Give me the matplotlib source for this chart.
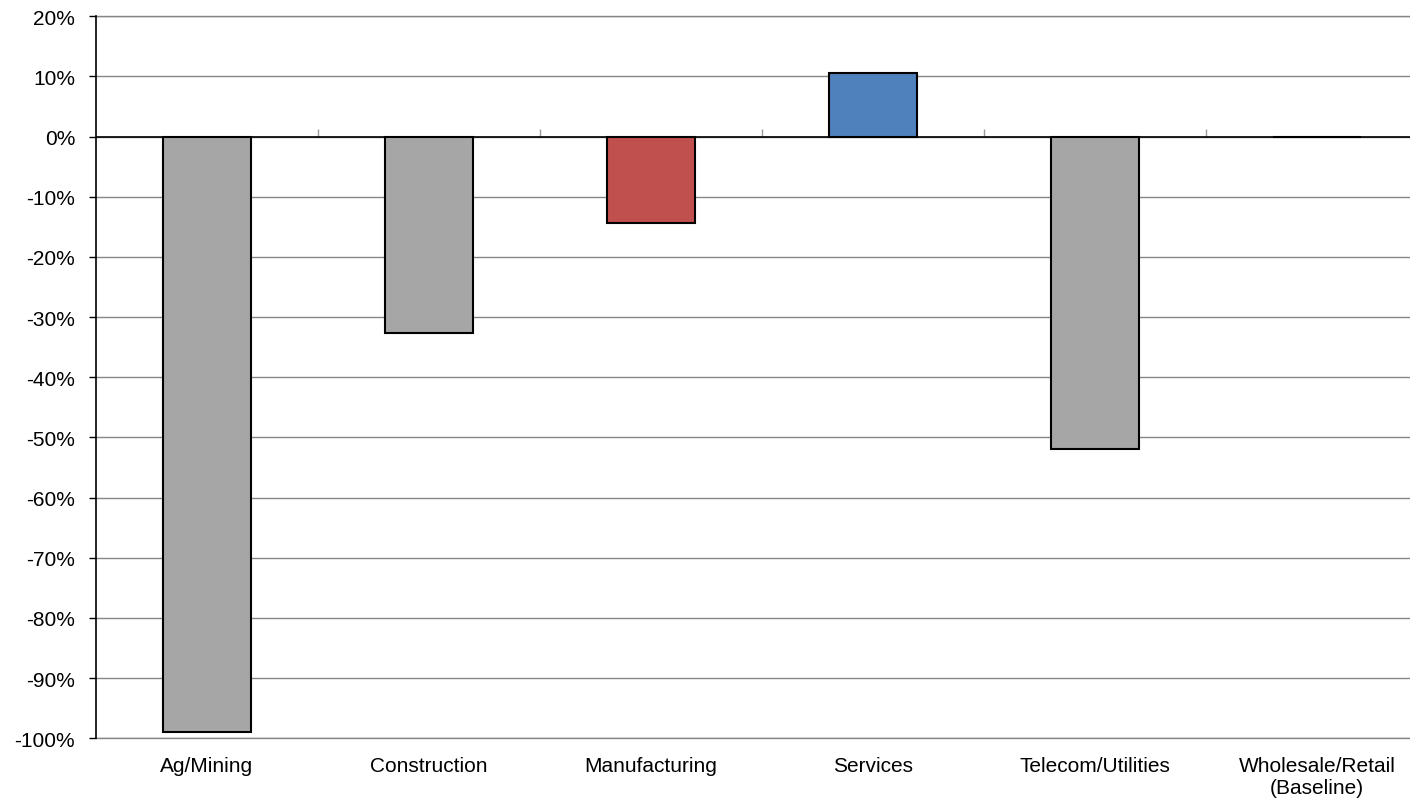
import matplotlib
matplotlib.use("Agg")
import matplotlib.pyplot as plt
from matplotlib.ticker import FuncFormatter, MultipleLocator

categories = ["Ag/Mining", "Construction", "Manufacturing", "Services",
              "Telecom/Utilities", "Wholesale/Retail\n(Baseline)"]
values = [-98.9, -32.7, -14.3, 10.5, -51.9, 0.0]
bar_colors = ["#A6A6A6", "#A6A6A6", "#C0504D", "#4F81BD", "#A6A6A6", "#A6A6A6"]

plt.rcParams["font.family"] = ["Liberation Sans", "DejaVu Sans"]

fig = plt.figure(figsize=(14.10, 8.04), dpi=100)
ax = fig.add_axes([96 / 1410, 64.7 / 804, 1332 / 1410, 722 / 804])

ymin, ymax = -100, 20
x = range(len(categories))
ax.bar(x, values, width=0.4, color=bar_colors, edgecolor="black",
       linewidth=1.5, zorder=3)

ax.set_xlim(-0.5, len(categories) - 0.5)
ax.set_ylim(ymin, ymax)
ax.yaxis.set_major_locator(MultipleLocator(10))
ax.yaxis.set_major_formatter(FuncFormatter(lambda v, _: f"{v:.0f}%"))

# horizontal gridlines, with the zero line in black
ax.yaxis.grid(True, color="#868686", linewidth=1.0, zorder=0)
for edge in (ymin, ymax):
    ax.axhline(edge, color="#868686", linewidth=1.0, zorder=0, clip_on=False)
ax.axhline(0, color="black", linewidth=1.2, zorder=2)

for side in ("top", "right", "bottom"):
    ax.spines[side].set_visible(False)
ax.spines["left"].set_color("black")
ax.spines["left"].set_linewidth(1.2)
ax.spines["left"].set_zorder(4)

ax.set_xticks(list(x))
ax.set_xticklabels(categories, fontsize=15, linespacing=1.2)
ax.tick_params(axis="x", length=0, pad=13)
ax.tick_params(axis="y", direction="out", length=5, width=1.0,
               color="black", labelsize=15, pad=10)

# category separators sitting on the zero line
sep = ax.secondary_xaxis((0 - ymin) / (ymax - ymin))
sep.spines["bottom"].set_visible(False)
sep.spines["top"].set_visible(False)
sep.set_xticks([i + 0.5 for i in range(len(categories) - 1)])
sep.tick_params(axis="x", direction="out", length=6, width=1.0,
                color="#9A9A9A", labelbottom=False, labeltop=False)

fig.savefig("out.png", dpi=100)
